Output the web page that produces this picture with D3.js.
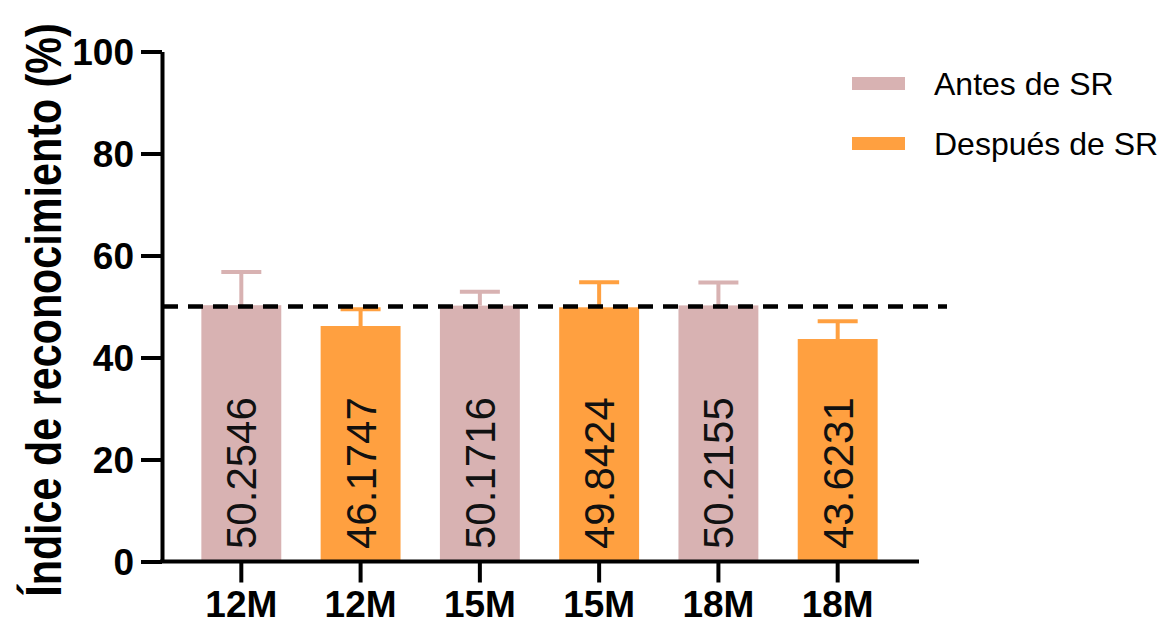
<!DOCTYPE html>
<html>
<head>
<meta charset="utf-8">
<script src="https://cdn.jsdelivr.net/npm/d3@7"></script>
<style>
  html, body { margin: 0; padding: 0; background: #ffffff; }
  svg { display: block; }
  text { font-family: "Liberation Sans", Arial, sans-serif; }
</style>
</head>
<body>
<svg id="chart" width="1167" height="627"></svg>
<script>
// Age groups and the two conditions
const categories = ["12M", "15M", "18M"];
const seriesNames = ["Antes de SR", "Después de SR"];
const seriesColors = ["#d8b2b2", "#ffa040"];

// Mean recognition index (%) per group
const antes = [50.2546, 50.1716, 50.2155];
const despues = [46.1747, 49.8424, 43.6231];

// Upper error (SD) per group
const antesErr = [6.5, 2.7, 4.5];
const despuesErr = [3.3, 4.9, 3.5];

// Y axis ticks and chance reference level
const yTicks = [0, 20, 40, 60, 80, 100];
const chanceLevel = 50;

// Interleave the two series into one bar per (group, condition)
const bars = [];
categories.forEach((c, i) => {
  bars.push({ key: c + "-a", label: c, value: antes[i], err: antesErr[i], s: 0 });
  bars.push({ key: c + "-d", label: c, value: despues[i], err: despuesErr[i], s: 1 });
});

const svg = d3.select("#chart");

const x = d3.scaleBand()
  .domain(bars.map(d => d.key))
  .range([162, 917])
  .paddingInner(0.33)
  .paddingOuter(0.33);

const y = d3.scaleLinear().domain([0, 100]).range([561.5, 51.5]);

// Bars
svg.append("g").selectAll("rect")
  .data(bars)
  .join("rect")
  .attr("x", d => x(d.key))
  .attr("width", x.bandwidth())
  .attr("y", d => y(d.value))
  .attr("height", d => y(0) - y(d.value))
  .attr("fill", d => seriesColors[d.s]);

// Upper error bars
const eb = svg.append("g").selectAll("g").data(bars).join("g")
  .attr("stroke", d => seriesColors[d.s])
  .attr("stroke-width", 4);
eb.append("line")
  .attr("x1", d => x(d.key) + x.bandwidth() / 2)
  .attr("x2", d => x(d.key) + x.bandwidth() / 2)
  .attr("y1", d => y(d.value))
  .attr("y2", d => y(d.value + d.err));
eb.append("line")
  .attr("x1", d => x(d.key) + x.bandwidth() / 2 - 20)
  .attr("x2", d => x(d.key) + x.bandwidth() / 2 + 20)
  .attr("y1", d => y(d.value + d.err))
  .attr("y2", d => y(d.value + d.err));

// Value labels inside the bars
const labelSize = 42;
svg.append("g").selectAll("text")
  .data(bars)
  .join("text")
  .attr("transform", d => `translate(${x(d.key) + x.bandwidth() / 2 + labelSize * 0.358},549) rotate(-90)`)
  .attr("text-anchor", "start")
  .attr("font-size", labelSize)
  .attr("fill", "#111")
  .text(d => d.value.toFixed(4));

// Chance level reference line
svg.append("line")
  .attr("x1", 163).attr("x2", 947)
  .attr("y1", y(chanceLevel)).attr("y2", y(chanceLevel))
  .attr("stroke", "#000")
  .attr("stroke-width", 4.5)
  .attr("stroke-dasharray", "15 10");

// Y axis
const yAxis = svg.append("g")
  .attr("transform", "translate(162,0)")
  .call(d3.axisLeft(y).tickValues(yTicks).tickSize(21).tickPadding(7).tickSizeOuter(0));
yAxis.select(".domain").attr("stroke", "#000").attr("stroke-width", 4);
yAxis.selectAll(".tick line").attr("stroke", "#000").attr("stroke-width", 4);
yAxis.selectAll(".tick text")
  .attr("font-family", "Liberation Sans, Arial, sans-serif")
  .attr("font-size", 37).attr("font-weight", "bold").attr("fill", "#000")
  .attr("dy", "0.36em");

// X axis
const xAxis = svg.append("g")
  .attr("transform", "translate(0,561.5)")
  .call(d3.axisBottom(x).tickSize(21).tickPadding(8).tickSizeOuter(0)
    .tickFormat(k => bars.find(b => b.key === k).label));
xAxis.select(".domain").attr("stroke", "#000").attr("stroke-width", 4)
  .attr("d", "M160,0H919");
xAxis.selectAll(".tick line").attr("stroke", "#000").attr("stroke-width", 4);
xAxis.selectAll(".tick text")
  .attr("font-family", "Liberation Sans, Arial, sans-serif")
  .attr("font-size", 37).attr("font-weight", "bold").attr("fill", "#000")
  .attr("dy", "0.71em");

// Y axis title (tall, slightly condensed lettering)
svg.append("text")
  .attr("transform", "translate(61,310) rotate(-90) scale(1,1.2)")
  .attr("text-anchor", "middle")
  .attr("font-size", 41.3)
  .attr("font-weight", "bold")
  .attr("fill", "#000")
  .text("Índice de reconocimiento (%)");

// Legend
const legend = svg.append("g").selectAll("g")
  .data(seriesNames)
  .join("g")
  .attr("transform", (d, i) => `translate(852,${83.5 + i * 60})`);
legend.append("rect")
  .attr("x", 0).attr("y", -6.5)
  .attr("width", 53).attr("height", 13)
  .attr("fill", (d, i) => seriesColors[i]);
legend.append("text")
  .attr("x", 82).attr("y", 11.5)
  .attr("font-size", 32)
  .attr("fill", "#000")
  .text(d => d);
</script>
</body>
</html>
